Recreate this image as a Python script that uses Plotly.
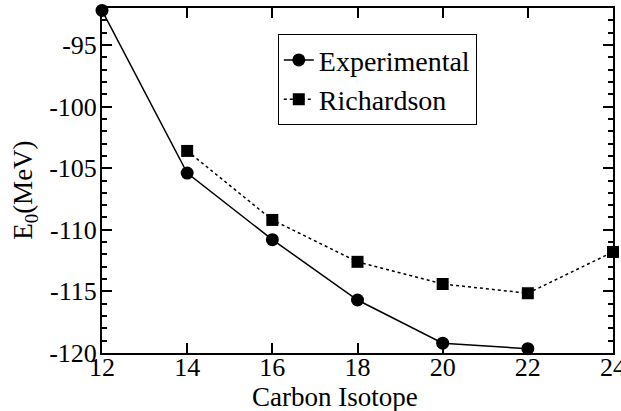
import plotly.graph_objects as go

# Ground-state energies of carbon isotopes (MeV)
exp_mass = [12, 14, 16, 18, 20, 22]
exp_energy = [-92.2, -105.4, -110.8, -115.7, -119.2, -119.65]

rich_mass = [14, 16, 18, 20, 22, 24]
rich_energy = [-103.6, -109.2, -112.6, -114.4, -115.15, -111.8]

x_ticks = [12, 14, 16, 18, 20, 22, 24]
y_ticks = [-120, -115, -110, -105, -100, -95]

FONT = "Liberation Serif"

fig = go.Figure()
fig.add_trace(go.Scatter(
    x=exp_mass, y=exp_energy, name="Experimental", mode="lines+markers",
    line=dict(color="black", width=1.5),
    marker=dict(symbol="circle", size=13, color="black"),
    cliponaxis=False,
))
fig.add_trace(go.Scatter(
    x=rich_mass, y=rich_energy, name="Richardson", mode="lines+markers",
    line=dict(color="black", width=1.5, dash="dot"),
    marker=dict(symbol="square", size=12, color="black"),
    cliponaxis=False,
))

axis_common = dict(
    showgrid=False, zeroline=False, showline=True, linecolor="black",
    linewidth=2, mirror="ticks", ticks="inside", tickcolor="black",
    tickwidth=1.5, ticklabeloverflow="allow",
    tickfont=dict(family=FONT, size=26, color="black"),
)

fig.update_xaxes(
    range=[12, 24], tickvals=x_ticks, ticktext=[str(v) for v in x_ticks],
    ticklen=10, ticklabelstandoff=-10,
    **axis_common,
)
fig.update_yaxes(
    range=[-120, -92], tickvals=y_ticks, ticktext=[str(v) for v in y_ticks],
    ticklen=10, ticklabelstandoff=-2,
    minor=dict(dtick=1, ticks="inside", ticklen=5, tickcolor="black", tickwidth=1.5),
    **axis_common,
)

# Axis titles placed as annotations for free positioning
fig.add_annotation(
    text="Carbon Isotope", xref="paper", yref="paper", x=0.455, y=-0.127,
    xanchor="center", yanchor="middle", showarrow=False,
    font=dict(family=FONT, size=27, color="black"),
)
fig.add_annotation(
    text="E<sub>0</sub>(MeV)", xref="paper", yref="paper", x=-0.151, y=0.4725,
    xanchor="center", yanchor="middle", textangle=-90, showarrow=False,
    font=dict(family=FONT, size=27, color="black"),
)

fig.update_layout(
    width=621, height=411,
    margin=dict(l=102, r=8, t=8, b=58, autoexpand=False),
    paper_bgcolor="white", plot_bgcolor="white",
    showlegend=True,
    legend=dict(
        x=0.344, y=0.924, xanchor="left", yanchor="top",
        bgcolor="white", bordercolor="black", borderwidth=1,
        font=dict(family=FONT, size=28, color="black"),
        itemwidth=30, tracegroupgap=0,
    ),
)

fig.write_html("out.html")
